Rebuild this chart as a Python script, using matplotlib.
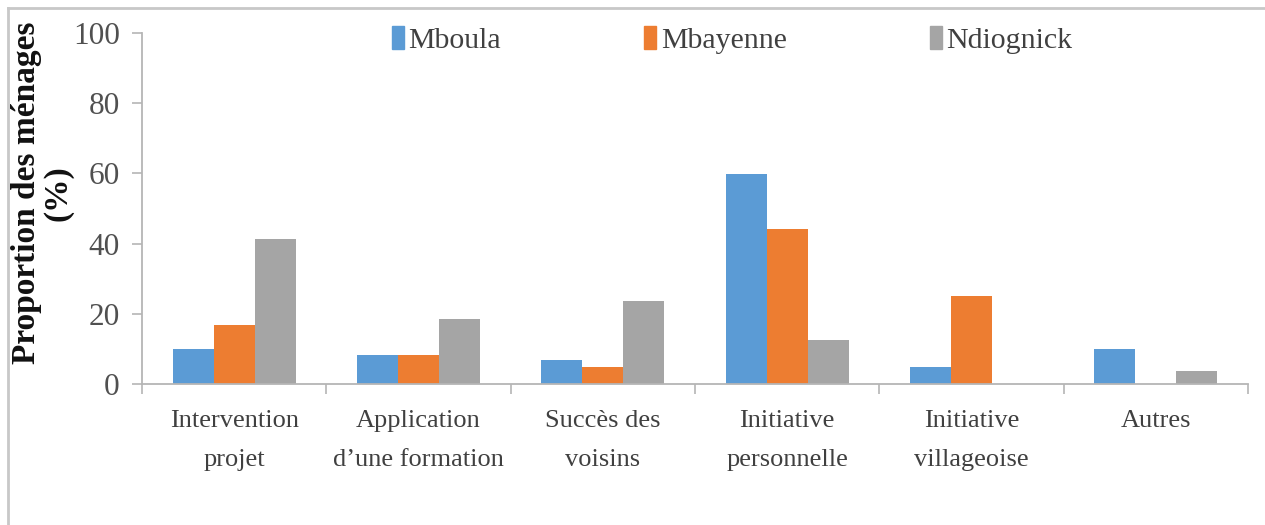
import matplotlib
matplotlib.use("Agg")
import matplotlib.pyplot as plt
from matplotlib.lines import Line2D
import numpy as np

categories = ["Intervention\nprojet", "Application\nd\u2019une formation", "Succès des\nvoisins",
              "Initiative\npersonnelle", "Initiative\nvillageoise", "Autres"]
series_names = ["Mboula", "Mbayenne", "Ndiognick"]
mboula = [10, 8.2, 6.7, 59.8, 4.9, 10]
mbayenne = [16.9, 8.2, 4.9, 44.3, 25, 0]
ndiognick = [41.2, 18.5, 23.7, 12.6, 0, 3.6]
yticks = [0, 20, 40, 60, 80, 100]
colors = ["#5B9BD5", "#ED7D31", "#A5A5A5"]

plt.rcParams['font.family'] = ['Liberation Serif', 'DejaVu Serif']

W, H = 1265, 525
fig = plt.figure(figsize=(W / 100, H / 100), dpi=100)
ax = fig.add_axes([142 / W, 1 - 384 / H, (1248 - 142) / W, (384 - 33) / H])

x = np.arange(len(categories))
bw = 0.223
for i, (vals, c, name) in enumerate(zip([mboula, mbayenne, ndiognick], colors, series_names)):
    ax.bar(x + (i - 1) * bw, vals, width=bw, color=c, label=name, zorder=2)

ax.set_xlim(-0.5, len(categories) - 0.5)
ax.set_ylim(0, 100)
ax.set_yticks(yticks)
ax.set_xticks(x)
ax.set_xticklabels(categories, fontsize=19, color="#404040", linespacing=1.95)
ax.set_xticks(np.arange(-0.5, len(categories)), minor=True)
ax.tick_params(axis='x', which='major', length=0, pad=19)
ax.tick_params(axis='x', which='minor', length=7, width=1.2, color="#b5b5b5", direction='out')
ax.tick_params(axis='y', length=7, width=1.2, color="#b5b5b5", labelsize=22.5, labelcolor="#505050", pad=9)

for s in ['top', 'right']:
    ax.spines[s].set_visible(False)
for s in ['left', 'bottom']:
    ax.spines[s].set_color("#b5b5b5")
    ax.spines[s].set_linewidth(1.3)

ax.set_ylabel("Proportion des ménages\n(%)", fontsize=24, fontweight='bold', color="#111111", linespacing=1.05)
ax.yaxis.set_label_coords(-0.0615, 0.545)

handles = [plt.Rectangle((0, 0), 1, 1, color=c) for c in colors]
fig.legend(handles, series_names, loc='center left', bbox_to_anchor=(377 / W, 1 - 40 / H),
           ncol=3, frameon=False, fontsize=21.5, handlelength=0.4, handleheight=0.8,
           handletextpad=0.15, columnspacing=4.8, borderpad=0, labelcolor="#404040")

# figure border (top and left visible)
fig.add_artist(Line2D([8 / W, 8 / W], [0, 1 - 8 / H], transform=fig.transFigure, color="#c8c8c8", lw=2))
fig.add_artist(Line2D([8 / W, 1], [1 - 8 / H, 1 - 8 / H], transform=fig.transFigure, color="#c8c8c8", lw=2))

fig.savefig("out.png", dpi=100)
